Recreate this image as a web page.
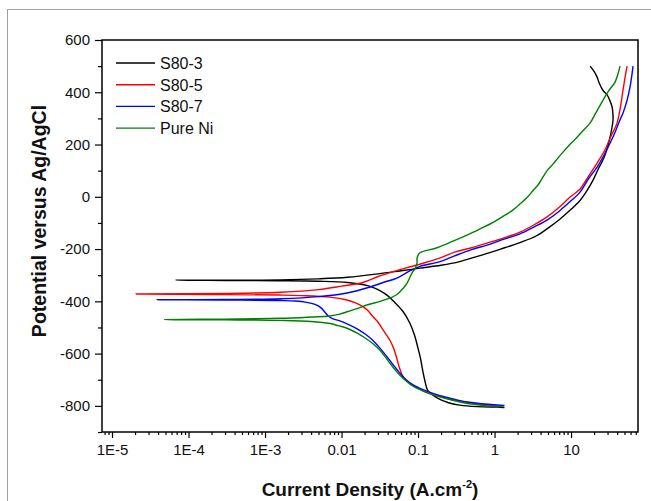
<!DOCTYPE html>
<html>
<head>
<meta charset="utf-8">
<script src="https://cdn.jsdelivr.net/npm/d3@7"></script>
<style>
  body { margin: 0; background: #fff; }
  text { font-family: Arial, "Liberation Sans", sans-serif; }
</style>
</head>
<body>
<div id="chart"></div>
<script>
const width = 651;
const height = 501;
const margin = { top: 40, right: 13, bottom: 69, left: 102 };

// series: [current density (A/cm2), potential (mV)], in scan order
const s803 = [
  [1.35, -806], [1.1, -805], [0.59, -803], [0.35, -797], [0.25, -788], [0.18, -770],
  [0.139, -747], [0.131, -735], [0.122, -700], [0.116, -670], [0.108, -620], [0.1, -580],
  [0.09, -530], [0.078, -483], [0.064, -440], [0.05, -405], [0.04, -378], [0.03, -355],
  [0.022, -340], [0.012, -328], [0.005, -323], [0.0015, -321], [0.0003, -320], [6.9e-5, -319],
  [0.0003, -319], [0.0016, -318], [0.005, -314], [0.012, -308], [0.03, -295], [0.06, -283],
  [0.106, -273], [0.2, -262], [0.35, -248], [0.7, -222], [1.2, -200], [2.15, -175],
  [3.5, -150], [5.0, -120], [7, -88], [10, -48], [13, -15], [16, 22], [19.4, 64], [23, 110],
  [27, 150], [30, 190], [32.4, 229], [34.5, 270], [35.4, 294], [35.2, 320], [34.4, 344],
  [32, 370], [29.6, 390], [26.5, 405], [24.7, 420], [23, 440], [21.9, 458], [20, 480], [17.7, 500]
];

const s805 = [
  [1.3, -802], [0.9, -798], [0.59, -792], [0.35, -782], [0.24, -772], [0.16, -758],
  [0.12, -745], [0.09, -725], [0.072, -705], [0.064, -690], [0.058, -660], [0.053, -620],
  [0.048, -580], [0.043, -550], [0.036, -515], [0.03, -480], [0.026, -460], [0.022, -435],
  [0.019, -420], [0.015, -405], [0.0118, -395], [0.007, -384], [0.003, -378], [0.0016, -376],
  [0.0003, -374], [2.06e-5, -372],
  [0.0003, -370], [0.0016, -365], [0.005, -355], [0.01, -342], [0.019, -328], [0.03, -305],
  [0.043, -290], [0.07, -272], [0.1, -260], [0.2, -233], [0.3, -212], [0.5, -195],
  [0.8, -177], [1.3, -158], [2.15, -135], [3.3, -107], [4.85, -77], [7, -40], [9.7, -1],
  [13.1, 30], [17.7, 88], [22, 130], [27.8, 180], [33, 230], [39.9, 282], [44, 340],
  [47.8, 409], [51, 460], [54, 500]
];

const s807 = [
  [1.35, -798], [0.9, -795], [0.5, -787], [0.354, -780], [0.22, -765], [0.157, -752],
  [0.11, -735], [0.086, -720], [0.07, -700], [0.058, -675], [0.048, -645], [0.0394, -613],
  [0.032, -580], [0.0258, -550], [0.021, -528], [0.016, -505], [0.012, -487], [0.0095, -475],
  [0.0075, -465], [0.0067, -456], [0.006, -440], [0.0054, -425], [0.0045, -412],
  [0.0035, -404], [0.0025, -399], [0.0016, -397], [0.0003, -395], [3.9e-5, -394],
  [0.0003, -393], [0.0016, -390], [0.005, -382], [0.0118, -368], [0.0236, -345],
  [0.035, -328], [0.053, -311], [0.08, -282], [0.106, -266], [0.194, -248], [0.3, -226],
  [0.5, -202], [0.8, -185], [1.3, -163], [2.15, -142], [3.3, -115], [4.85, -89], [7, -55],
  [10, -15], [13.1, 18], [17, 70], [21.9, 114], [27, 160], [32.4, 206], [38, 250],
  [43, 290], [47.8, 321], [54, 370], [59, 420], [62, 460], [64.6, 500]
];

const pureNi = [
  [1.3, -803], [0.8, -800], [0.5, -793], [0.354, -785], [0.22, -770], [0.157, -757],
  [0.11, -740], [0.086, -725], [0.07, -705], [0.058, -683], [0.048, -655], [0.0394, -622],
  [0.032, -588], [0.0258, -562], [0.0215, -545], [0.016, -522], [0.0118, -503],
  [0.009, -493], [0.0071, -485], [0.004, -477], [0.0016, -473], [0.0003, -471], [4.9e-5, -470],
  [0.0003, -468], [0.0016, -465], [0.004, -460], [0.007, -456], [0.0095, -449],
  [0.0118, -440], [0.016, -428], [0.022, -413], [0.032, -400], [0.045, -385], [0.053, -374],
  [0.064, -350], [0.072, -330], [0.082, -296], [0.093, -270], [0.097, -253], [0.097, -236],
  [0.1, -224], [0.106, -214], [0.177, -195], [0.287, -170], [0.45, -145], [0.645, -123],
  [1.0, -95], [1.46, -65], [1.75, -50], [2.2, -25], [2.66, -3], [3.19, 24], [3.8, 50],
  [4.3, 76], [5.0, 105], [5.8, 125], [6.8, 150], [7.9, 172], [10, 205], [12, 228],
  [14.5, 255], [17.7, 282], [21, 320], [26.2, 370], [31, 405], [37.6, 439], [41, 470],
  [43.7, 500]
];

const seriesNames = ["S80-3", "S80-5", "S80-7", "Pure Ni"];
const seriesColors = ["#000000", "#ff0000", "#0000ff", "#008000"];
const seriesData = [s803, s805, s807, pureNi];

const xMajorTicks = [1e-5, 1e-4, 1e-3, 0.01, 0.1, 1, 10];
const xTickLabels = ["1E-5", "1E-4", "1E-3", "0.01", "0.1", "1", "10"];
const yMajorTicks = [-800, -600, -400, -200, 0, 200, 400, 600];

const svg = d3
  .select("#chart")
  .append("svg")
  .attr("width", width)
  .attr("height", height);

// outer figure border
svg
  .append("rect")
  .attr("x", 7.5)
  .attr("y", 9.5)
  .attr("width", 700)
  .attr("height", 600)
  .attr("fill", "none")
  .attr("stroke", "#a0a0a0")
  .attr("stroke-width", 1);

const xScale = d3
  .scaleLog()
  .domain([7.4e-6, 75])
  .range([margin.left, width - margin.right]);

const yScale = d3
  .scaleLinear()
  .domain([-900, 600])
  .range([height - margin.bottom, margin.top]);

// minor ticks for the log axis
const xMinorTicks = [];
for (let e = -6; e <= 1; e++) {
  for (let m = 2; m <= 9; m++) {
    const v = m * Math.pow(10, e);
    if (v >= 7.4e-6 && v <= 75) xMinorTicks.push(v);
  }
}

const xAxisMajor = d3
  .axisBottom(xScale)
  .tickValues(xMajorTicks)
  .tickSize(6)
  .tickPadding(6)
  .tickFormat((d, i) => xTickLabels[i]);

const xAxisMinor = d3
  .axisBottom(xScale)
  .tickValues(xMinorTicks)
  .tickSize(3)
  .tickFormat("");

const gxMinor = svg
  .append("g")
  .attr("transform", `translate(0, ${height - margin.bottom})`)
  .call(xAxisMinor);

const gx = svg
  .append("g")
  .attr("transform", `translate(0, ${height - margin.bottom})`)
  .call(xAxisMajor);

const yAxisMajor = d3
  .axisLeft(yScale)
  .tickValues(yMajorTicks)
  .tickSize(7)
  .tickPadding(5)
  .tickFormat((d) => String(d));

const yAxisMinor = d3
  .axisLeft(yScale)
  .tickValues(d3.range(-900, 600, 200))
  .tickSize(4)
  .tickFormat("");

const gyMinor = svg
  .append("g")
  .attr("transform", `translate(${margin.left}, 0)`)
  .call(yAxisMinor);

const gy = svg
  .append("g")
  .attr("transform", `translate(${margin.left}, 0)`)
  .call(yAxisMajor);

[gx, gxMinor, gy, gyMinor].forEach((g) => {
  g.select(".domain").remove();
  g.selectAll("line").attr("stroke", "#000").attr("stroke-width", 1.2);
  g.selectAll("text")
    .attr("fill", "#111")
    .style("font-size", "15px");
});

// plot frame
svg
  .append("rect")
  .attr("x", margin.left)
  .attr("y", margin.top)
  .attr("width", width - margin.left - margin.right)
  .attr("height", height - margin.top - margin.bottom)
  .attr("fill", "none")
  .attr("stroke", "#000")
  .attr("stroke-width", 1.5);

// curves
const line = d3
  .line()
  .x((d) => xScale(d[0]))
  .y((d) => yScale(d[1]))
  .curve(d3.curveCatmullRom.alpha(0.5));

svg
  .append("g")
  .selectAll("path")
  .data(seriesData)
  .enter()
  .append("path")
  .attr("d", line)
  .attr("fill", "none")
  .attr("stroke", (d, i) => seriesColors[i])
  .attr("stroke-width", 1.4);

// legend
const legend = svg.append("g").attr("transform", "translate(116, 63)");
seriesNames.forEach((name, i) => {
  const row = legend.append("g").attr("transform", `translate(0, ${i * 21.7})`);
  row
    .append("line")
    .attr("x1", 0)
    .attr("x2", 39)
    .attr("stroke", seriesColors[i])
    .attr("stroke-width", 1.4);
  row
    .append("text")
    .attr("x", 44)
    .attr("y", 6)
    .style("font-size", "16px")
    .attr("fill", "#111")
    .text(name);
});

// axis titles
const xTitle = svg
  .append("text")
  .attr("x", (margin.left + width - margin.right) / 2)
  .attr("y", 496)
  .attr("text-anchor", "middle")
  .style("font-size", "19px")
  .style("font-weight", "bold")
  .attr("fill", "#111");
xTitle.append("tspan").text("Current Density (A.cm");
xTitle.append("tspan").attr("dy", -8).style("font-size", "11px").text("-2");
xTitle.append("tspan").attr("dy", 8).text(")");

svg
  .append("text")
  .attr("transform", "rotate(-90)")
  .attr("x", -221)
  .attr("y", 46)
  .attr("text-anchor", "middle")
  .style("font-size", "19.5px")
  .style("font-weight", "bold")
  .attr("fill", "#111")
  .text("Potential versus Ag/AgCl");
</script>
</body>
</html>
